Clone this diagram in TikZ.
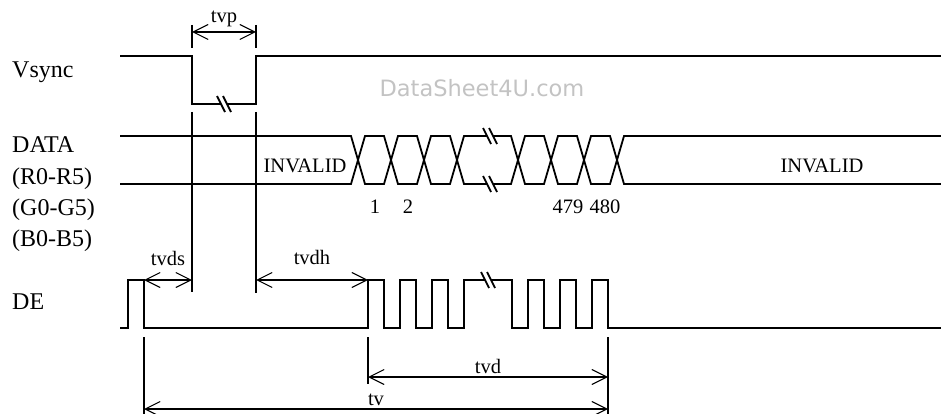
\documentclass[tikz,border=0pt]{standalone}
\usepackage{fontspec}
\setmainfont{Liberation Serif}
\newfontfamily\wmfont{DejaVu Sans}
\usetikzlibrary{arrows.meta}
\definecolor{wmgray}{RGB}{195,195,195}

\begin{document}
\begin{tikzpicture}[x=1pt, y=-1pt,
  sig/.style={line width=1.8pt, line join=miter},
  guide/.style={line width=1.1pt},
  dim/.style={{Straight Barb[length=15pt,width=15pt]}-{Straight Barb[length=15pt,width=15pt]}, line width=1.1pt},
  lbl/.style={anchor=base west, inner sep=0pt, font=\fontsize{24}{28}\selectfont},
  note/.style={inner sep=0pt, anchor=base, font=\fontsize{20.5}{24}\selectfont}
]
  \useasboundingbox (0,0) rectangle (941,414);

  \node[lbl] (vsync) at (12,78) {Vsync};
  \node[lbl] (data) at (12,153) {DATA};
  \node[lbl] (red) at (12,184) {(R0-R5)};
  \node[lbl] (green) at (12,215) {(G0-G5)};
  \node[lbl] (blue) at (12,246) {(B0-B5)};
  \node[lbl] (de) at (12,309) {DE};

  \node[font=\wmfont\fontsize{22.5}{26}\selectfont, text=wmgray, anchor=base, inner sep=0pt] (mark) at (482,97) {DataSheet4U.com};

  \draw[sig] (120,56) -- (192,56) -- (192,104) -- (221,104);
  \draw[sig] (227,104) -- (256,104) -- (256,56) -- (941,56);

  \draw[sig] (120,136) \foreach \c in {358,424} {-- ({\c-7},136) -- ({\c+7},184) -- ({\c+26},184) -- ({\c+40},136)} -- (487,136);
  \draw[sig] (120,184) \foreach \c in {358,424} {-- ({\c-7},184) -- ({\c+7},136) -- ({\c+26},136) -- ({\c+40},184)} -- (487,184);
  \draw[sig] (493,136) \foreach \c in {518,584} {-- ({\c-7},136) -- ({\c+7},184) -- ({\c+26},184) -- ({\c+40},136)} -- (941,136);
  \draw[sig] (493,184) \foreach \c in {518,584} {-- ({\c-7},184) -- ({\c+7},136) -- ({\c+26},136) -- ({\c+40},184)} -- (941,184);

  \draw[sig] (120,328) -- (128,328) -- (128,280) -- (144,280) -- (144,328)
    \foreach \x in {368,400,432} {-- (\x,328) -- (\x,280) -- ({\x+16},280) -- ({\x+16},328)}
    -- (464,328) -- (464,280) -- (485,280);
  \draw[sig] (491,280) -- (512,280) -- (512,328)
    \foreach \x in {528,560,592} {-- (\x,328) -- (\x,280) -- ({\x+16},280) -- ({\x+16},328)}
    -- (941,328);

  \foreach \x/\y in {224/104, 490/136, 490/184, 488/280} {
    \draw[sig] ({\x-7},{\y-8}) -- ({\x+1},{\y+8});
    \draw[sig] ({\x-1},{\y-8}) -- ({\x+7},{\y+8});
  }

  \node[note] (inv left) at (305,172) {INVALID};
  \node[note] (inv right) at (822,172) {INVALID};
  \foreach \x/\t in {375/1, 408/2, 568/479, 605/480}
    \node[note] (n\t) at (\x,213) {\t};

  \foreach \x/\ya/\yb in {192/25/48, 256/25/48, 192/112/292, 256/112/293, 144/337/414, 368/337/384, 608/337/414}
    \draw[guide] (\x,\ya) -- (\x,\yb);

  \foreach \n/\a/\b/\y/\s in {tvp/192/256/32/9, tvds/144/192/280/15, tvdh/256/368/280/16, tvd/368/608/377/4, tv/144/608/409/4} {
    \coordinate (\n a) at (\a,\y);
    \coordinate (\n b) at (\b,\y);
    \draw[dim] (\n a) -- node[note, yshift=\s pt] (\n) {\n} (\n b);
  }
\end{tikzpicture}
\end{document}
